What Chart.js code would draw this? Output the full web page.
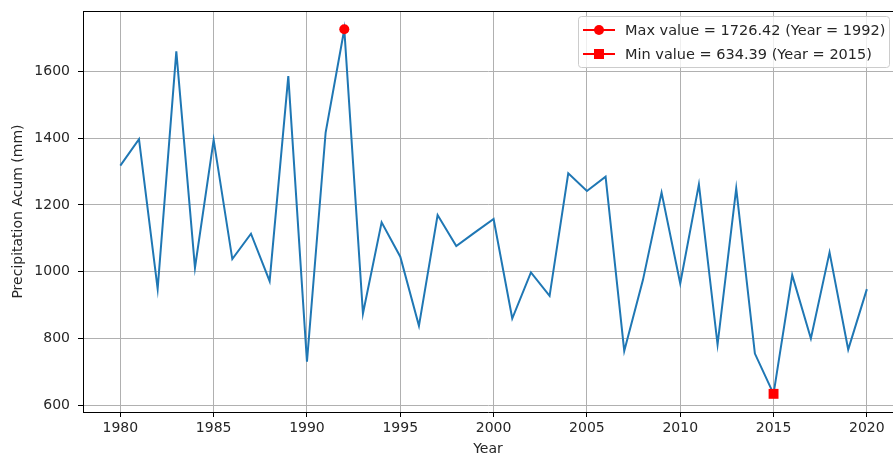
<!DOCTYPE html>
<html>
<head>
<meta charset="utf-8">
<script src="https://cdn.jsdelivr.net/npm/chart.js@4.4.1/dist/chart.umd.min.js"></script>
<style>
  html, body { margin: 0; padding: 0; background: #fff; }
  #chart { display: block; }
</style>
</head>
<body>
<canvas id="chart" width="893" height="454"></canvas>
<script>
const years = [1980, 1981, 1982, 1983, 1984, 1985, 1986, 1987, 1988, 1989,
               1990, 1991, 1992, 1993, 1994, 1995, 1996, 1997, 1998, 1999,
               2000, 2001, 2002, 2003, 2004, 2005, 2006, 2007, 2008, 2009,
               2010, 2011, 2012, 2013, 2014, 2015, 2016, 2017, 2018, 2019, 2020];
const precip = [1318, 1397, 949, 1660, 1012, 1395, 1038, 1114, 972, 1586,
                731, 1417, 1726.42, 875, 1148, 1045, 838, 1170, 1077, 1118,
                1158, 860, 998, 928, 1295, 1242, 1285, 763, 975, 1237,
                965, 1262, 782, 1250, 755, 634.39, 990, 800, 1058, 767, 948];
const xTicks = [1980, 1985, 1990, 1995, 2000, 2005, 2010, 2015, 2020];
const yTicks = [600, 800, 1000, 1200, 1400, 1600];

const maxVal = Math.max(...precip);
const minVal = Math.min(...precip);
const maxYear = years[precip.indexOf(maxVal)];
const minYear = years[precip.indexOf(minVal)];

const FONT = 'DejaVu Sans, sans-serif';
const TEXT = '#262626';

// matplotlib-style legend box (line + marker) and top spine
const mplLegend = {
    id: 'mplLegend',
    afterDraw(chart) {
        const ctx = chart.ctx;
        const area = chart.chartArea;
        ctx.save();
        ctx.strokeStyle = '#000';
        ctx.lineWidth = 1;
        ctx.beginPath();
        ctx.moveTo(area.left, area.top + 0.5);
        ctx.lineTo(area.right, area.top + 0.5);
        ctx.stroke();

        const x0 = 578, y0 = 16, w = 311, h = 51;
        ctx.fillStyle = 'rgba(255,255,255,0.8)';
        ctx.strokeStyle = '#cccccc';
        ctx.beginPath();
        ctx.roundRect(x0 + 0.5, y0 + 0.5, w, h, 3);
        ctx.fill();
        ctx.stroke();

        const rows = chart.data.datasets.filter(d => d.legend);
        rows.forEach((d, i) => {
            const cy = y0 + 14 + i * 24;
            ctx.strokeStyle = d.borderColor;
            ctx.lineWidth = 2;
            ctx.beginPath();
            ctx.moveTo(x0 + 5, cy);
            ctx.lineTo(x0 + 37, cy);
            ctx.stroke();
            ctx.fillStyle = d.backgroundColor;
            if (d.pointStyle === 'rect') {
                ctx.fillRect(x0 + 16, cy - 5, 10, 10);
            } else {
                ctx.beginPath();
                ctx.arc(x0 + 21, cy, 5, 0, Math.PI * 2);
                ctx.fill();
            }
            ctx.fillStyle = TEXT;
            ctx.font = '14.5px ' + FONT;
            ctx.textBaseline = 'middle';
            ctx.fillText(d.label, x0 + 47, cy + 1);
        });
        ctx.restore();
    }
};

const ctx = document.getElementById('chart').getContext('2d');
new Chart(ctx, {
    type: 'line',
    data: {
        datasets: [{
            label: 'Precipitation',
            data: years.map((y, i) => ({ x: y, y: precip[i] })),
            borderColor: '#1f77b4',
            borderWidth: 2,
            pointRadius: 0,
            tension: 0,
            order: 2
        }, {
            label: `Max value = ${maxVal.toFixed(2)} (Year = ${maxYear})`,
            legend: true,
            data: [{ x: maxYear, y: maxVal }],
            borderColor: '#ff0000',
            backgroundColor: '#ff0000',
            pointStyle: 'circle',
            pointRadius: 5,
            pointBorderWidth: 0,
            showLine: false,
            order: 0
        }, {
            label: `Min value = ${minVal.toFixed(2)} (Year = ${minYear})`,
            legend: true,
            data: [{ x: minYear, y: minVal }],
            borderColor: '#ff0000',
            backgroundColor: '#ff0000',
            pointStyle: 'rect',
            pointRadius: 7,
            pointBorderWidth: 0,
            showLine: false,
            order: 0
        }]
    },
    options: {
        responsive: false,
        animation: false,
        layout: { autoPadding: false, padding: { top: 11, right: 0, left: 0, bottom: 0 } },
        plugins: {
            legend: { display: false },
            tooltip: { enabled: false }
        },
        scales: {
            x: {
                type: 'linear',
                min: 1978,
                max: 2021.4,
                afterFit: s => { s.height = 42; s.paddingLeft = 0; s.paddingRight = 0; },
                afterBuildTicks: s => { s.ticks = xTicks.map(v => ({ value: v })); },
                grid: { color: '#b0b0b0', lineWidth: 1, tickLength: 5, tickColor: '#000' },
                border: { color: '#000', width: 1 },
                ticks: { color: TEXT, font: { family: FONT, size: 14 }, padding: 3, maxRotation: 0,
                         callback: v => String(v) },
                title: { display: true, text: 'Year', color: TEXT,
                         font: { family: FONT, size: 14 }, padding: { top: 0, bottom: -4 } }
            },
            y: {
                min: 580,
                max: 1781,
                afterFit: s => { s.width = 83; s.paddingTop = 0; s.paddingBottom = 0; },
                afterBuildTicks: s => { s.ticks = yTicks.map(v => ({ value: v })); },
                grid: { color: '#b0b0b0', lineWidth: 1, tickLength: 5, tickColor: '#000' },
                border: { color: '#000', width: 1 },
                ticks: { color: TEXT, font: { family: FONT, size: 14 }, padding: 8,
                         callback: v => String(v) },
                title: { display: true, text: 'Precipitation Acum (mm)', color: TEXT,
                         font: { family: FONT, size: 14 }, padding: { top: 10, bottom: 0 } }
            }
        }
    },
    plugins: [mplLegend]
});
</script>
</body>
</html>
